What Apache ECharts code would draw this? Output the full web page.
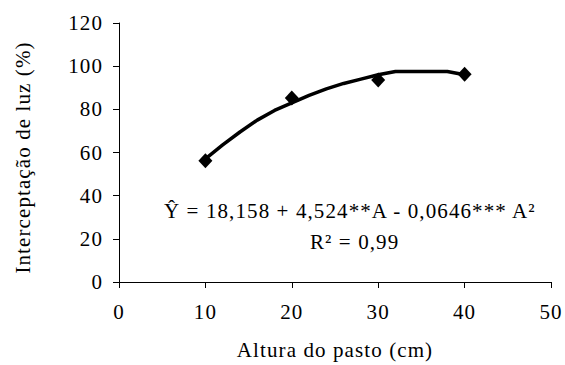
<!DOCTYPE html>
<html>
<head>
<meta charset="utf-8">
<script src="https://cdn.jsdelivr.net/npm/echarts@6/dist/echarts.min.js"></script>
<style>
  html, body { margin: 0; padding: 0; background: #fff; }
  #chart { width: 565px; height: 365px; }
  /* slightly open tracking for the serif labels */
  #chart svg text { letter-spacing: 1.1px; }
</style>
</head>
<body>
<div id="chart"></div>
<script>
// Observed light interception at each sward height
const alturas = [10, 20, 30, 40];
const intercepcao = [56.2, 85.2, 93.6, 96.3];

// Fitted response curve (quadratic-plateau), points along the drawn line
const curvaX = [10, 12, 14, 16, 18, 20, 22, 24, 26, 28, 30, 32, 38, 40];
const curvaY = [57, 63.5, 69.5, 75, 79.5, 83, 86.5, 89.5, 92, 94, 96, 97.5, 97.5, 96];

// Axis ranges
const xTicks = { min: 0, max: 50, interval: 10 };
const yTicks = { min: 0, max: 120, interval: 20 };

const equacao = 'Ŷ = 18,158 + 4,524**A - 0,0646*** A²';
const r2 = 'R² = 0,99';

const FONT = '"Liberation Serif", "DejaVu Serif", serif';
const FS = 21;
const chart = echarts.init(document.getElementById('chart'), null, { renderer: 'svg' });

chart.setOption({
  animation: false,
  backgroundColor: '#ffffff',
  textStyle: { fontFamily: FONT, color: '#000' },
  grid: { left: 119, right: 14, top: 23, bottom: 79, containLabel: false },
  xAxis: {
    type: 'value',
    min: xTicks.min, max: xTicks.max, interval: xTicks.interval,
    name: 'Altura do pasto (cm)',
    nameLocation: 'middle',
    nameGap: 57,
    nameTextStyle: { fontFamily: FONT, fontSize: FS, color: '#000' },
    axisLine: { lineStyle: { color: '#000', width: 1 } },
    axisTick: { show: true, length: 6, lineStyle: { color: '#000' } },
    axisLabel: { margin: 19, fontFamily: FONT, fontSize: FS, color: '#000' },
    splitLine: { show: false }
  },
  yAxis: {
    type: 'value',
    min: yTicks.min, max: yTicks.max, interval: yTicks.interval,
    name: 'Interceptação de luz (%)',
    nameLocation: 'middle',
    nameGap: 86,
    nameRotate: 90,
    nameTextStyle: { fontFamily: FONT, fontSize: FS, color: '#000', padding: [0, 10, 0, 0] },
    axisLine: { show: true, lineStyle: { color: '#000', width: 1 } },
    axisTick: { show: true, length: 6, lineStyle: { color: '#000' } },
    axisLabel: { margin: 16, fontFamily: FONT, fontSize: FS, color: '#000' },
    splitLine: { show: false }
  },
  series: [
    {
      name: 'curva',
      type: 'line',
      data: curvaX.map((x, i) => [x, curvaY[i]]),
      showSymbol: false,
      symbol: 'none',
      smooth: false,
      lineStyle: { color: '#000', width: 3.5 },
      z: 2
    },
    {
      name: 'observado',
      type: 'scatter',
      data: alturas.map((x, i) => [x, intercepcao[i]]),
      symbol: 'diamond',
      symbolSize: [14, 15],
      itemStyle: { color: '#000', opacity: 1 },
      z: 3
    }
  ],
  graphic: [
    {
      type: 'text',
      left: 164, top: 200,
      style: { text: equacao, fontFamily: FONT, fontSize: FS, fill: '#000' }
    },
    {
      type: 'text',
      left: 310, top: 231,
      style: { text: r2, fontFamily: FONT, fontSize: FS, fill: '#000' }
    }
  ]
});
</script>
</body>
</html>
